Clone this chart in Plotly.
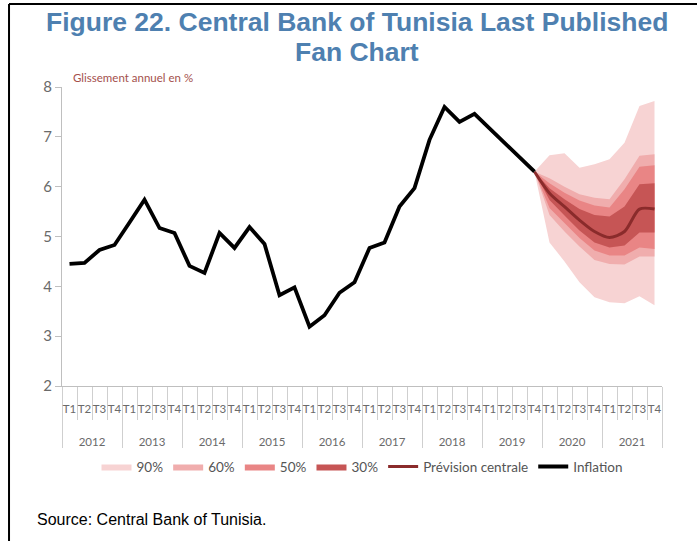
import plotly.graph_objects as go

years = ['2012', '2013', '2014', '2015', '2016', '2017', '2018', '2019', '2020', '2021']
quarters = ['T1', 'T2', 'T3', 'T4']

inflation = [4.45, 4.47, 4.73, 4.83,
             5.28, 5.74, 5.17, 5.07,
             4.41, 4.27, 5.07, 4.77,
             5.19, 4.85, 3.82, 3.98,
             3.19, 3.42, 3.87, 4.08,
             4.77, 4.88, 5.60, 5.97,
             6.94, 7.60, 7.30, 7.46,
             7.17, 6.88, 6.60, 6.30]

# forecast period: 2019 T4 .. 2021 T4
central = [6.30, 5.87, 5.60, 5.33, 5.10, 4.98, 5.10, 5.55, 5.55]
band30_up = [6.30, 5.97, 5.75, 5.55, 5.43, 5.40, 5.60, 6.05, 6.07]
band30_lo = [6.30, 5.73, 5.42, 5.12, 4.88, 4.78, 4.82, 5.08, 5.08]
band50_up = [6.30, 6.07, 5.88, 5.72, 5.62, 5.58, 5.95, 6.40, 6.43]
band50_lo = [6.30, 5.57, 5.27, 4.97, 4.72, 4.62, 4.62, 4.78, 4.75]
band60_up = [6.30, 6.17, 6.00, 5.85, 5.78, 5.75, 6.15, 6.62, 6.65]
band60_lo = [6.30, 5.43, 5.10, 4.80, 4.53, 4.45, 4.44, 4.60, 4.60]
band90_up = [6.30, 6.63, 6.67, 6.38, 6.45, 6.55, 6.88, 7.62, 7.72]
band90_lo = [6.30, 4.88, 4.50, 4.08, 3.78, 3.68, 3.66, 3.80, 3.62]

# axis labels: quarter label gets empty extra lines to leave room above the year row
q_labels = [q + '<br> <br> ' for q in quarters]
all_years = [y for y in years for q in q_labels]
all_quarters = [q for y in years for q in q_labels]
n_hist = len(inflation)
x_hist = [all_years[:n_hist], all_quarters[:n_hist]]
start = n_hist - 1
x_fc = [all_years[start:start + len(central)], all_quarters[start:start + len(central)]]

fig = go.Figure()

# invisible trace carrying the full category list of the axis
fig.add_trace(go.Scatter(x=[all_years, all_quarters], y=[None] * len(all_years),
                         mode='lines', showlegend=False, hoverinfo='skip'))

bands = [
    ('90%', band90_lo, band90_up, '#f7d3d3'),
    ('60%', band60_lo, band60_up, '#f0adad'),
    ('50%', band50_lo, band50_up, '#e98585'),
    ('30%', band30_lo, band30_up, '#c65555'),
]
for name, lo, up, col in bands:
    fig.add_trace(go.Scatter(x=x_fc, y=lo, mode='lines', line=dict(width=0, color=col),
                             showlegend=False, hoverinfo='skip'))
    fig.add_trace(go.Scatter(x=x_fc, y=up, mode='lines', line=dict(width=0, color=col),
                             fill='tonexty', fillcolor=col, name=name))

fig.add_trace(go.Scatter(x=x_fc, y=central, mode='lines',
                         line=dict(color='#8a2b2b', width=3, shape='spline', smoothing=0.8),
                         name='Prévision centrale'))
fig.add_trace(go.Scatter(x=x_hist, y=inflation, mode='lines',
                         line=dict(color='#000000', width=3.8),
                         name='Inflation'))

axis_font = dict(family='Lato, Open Sans, sans-serif', color='#6a6a6a')
title_font = dict(family='Liberation Sans, Arial, sans-serif', size=26.5, color='#4e80b0')

fig.update_layout(
    width=697, height=541,
    margin=dict(l=62, r=35, t=87, b=155),
    paper_bgcolor='white', plot_bgcolor='white',
    showlegend=True,
    legend=dict(orientation='h', x=0.5, xanchor='center', y=-0.27, yanchor='middle',
                font=dict(family='Lato, Open Sans, sans-serif', size=13.5, color='#555555'),
                traceorder='normal', itemwidth=30, bgcolor='rgba(0,0,0,0)'),
    xaxis=dict(type='multicategory', range=[-0.5, 39.5], showline=True,
               linecolor='#bfbfbf', linewidth=1,
               ticks='outside', tickson='boundaries', ticklen=33, tickcolor='#cfcfcf',
               showdividers=True, dividercolor='#cfcfcf', dividerwidth=1,
               showgrid=False, zeroline=False, tickangle=0, ticklabelstandoff=12,
               tickfont=dict(size=11.5, **axis_font)),
    yaxis=dict(range=[2, 8], dtick=1, showline=True, linecolor='#bfbfbf', linewidth=1,
               ticks='outside', ticklen=6, tickcolor='#bfbfbf', showgrid=False,
               zeroline=False, tickfont=dict(size=15, **axis_font)),
    annotations=[
        dict(text='<b>Figure 22. Central Bank of Tunisia Last Published</b>',
             xref='paper', yref='paper', x=0.491, y=1.2174, xanchor='center', yanchor='middle',
             showarrow=False, font=title_font),
        dict(text='<b>Fan Chart</b>',
             xref='paper', yref='paper', x=0.491, y=1.117, xanchor='center', yanchor='middle',
             showarrow=False, font=title_font),
        dict(text='Glissement annuel en %', xref='paper', yref='paper', x=0.015, y=1.033,
             xanchor='left', yanchor='middle', showarrow=False,
             font=dict(family='Lato, Open Sans, sans-serif', size=11.5, color='#a4504c')),
        dict(text='Source: Central Bank of Tunisia.', xref='paper', yref='paper',
             x=-0.045, y=-0.448, xanchor='left', yanchor='middle', showarrow=False,
             font=dict(family='Liberation Sans, Arial, sans-serif', size=16, color='#000000')),
    ],
    shapes=[
        dict(type='line', xref='paper', yref='paper', x0=-0.0883, x1=1.06, y0=1.2776, y1=1.2776,
             line=dict(color='black', width=2)),
        dict(type='line', xref='paper', yref='paper', x0=-0.0883, x1=-0.0883, y0=1.2776, y1=-0.53,
             line=dict(color='black', width=2)),
    ],
)

fig.write_html('out.html', config={'displayModeBar': False},
               post_script="document.body.style.margin='0';")
